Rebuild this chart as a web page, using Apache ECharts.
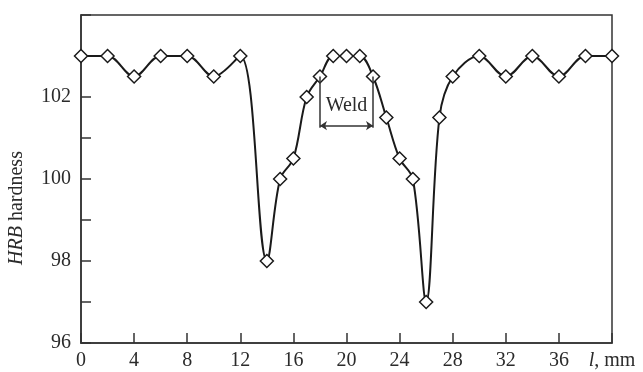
<!DOCTYPE html>
<html>
<head>
<meta charset="utf-8">
<script src="https://cdn.jsdelivr.net/npm/echarts@6/dist/echarts.min.js"></script>
<style>
  html, body { margin: 0; padding: 0; background: #fff; }
  #chart { width: 643px; height: 372px; }
</style>
</head>
<body>
<div id="chart"></div>
<script>
// distance l (mm) and HRB hardness
const posicions = [0, 2, 4, 6, 8, 10, 12, 14, 15, 16, 17, 18, 19, 20, 21, 22, 23, 24, 25, 26, 27, 28, 30, 32, 34, 36, 38, 40];
const duresa = [103, 103, 102.5, 103, 103, 102.5, 103, 98, 100, 100.5, 102, 102.5, 103, 103, 103, 102.5, 101.5, 100.5, 100, 97, 101.5, 102.5, 103, 102.5, 103, 102.5, 103, 103];

// weld zone annotation
const zonaSoldadura = [18, 22];
const alcadaFletxa = 101.3;
const alcadaText = 101.78;
const textSoldadura = 'Weld';

const FONT = '"Liberation Serif", "DejaVu Serif", serif';
const TEXT = '#2b2b2b';
const LINIA = '#333';

const chart = echarts.init(document.getElementById('chart'), undefined, { renderer: 'canvas' });

const punts = posicions.map((x, i) => [x, duresa[i]]);
const iniciZona = punts.find((p) => p[0] === zonaSoldadura[0]);
const fiZona = punts.find((p) => p[0] === zonaSoldadura[1]);

chart.setOption({
  animation: false,
  backgroundColor: '#fff',
  grid: {
    left: 81, right: 31, top: 15, bottom: 29,
    show: true, borderColor: LINIA, borderWidth: 1.5, backgroundColor: 'transparent'
  },
  xAxis: {
    type: 'value',
    min: 0, max: 40, interval: 4,
    axisLine: { lineStyle: { color: LINIA, width: 1.5 } },
    axisTick: { inside: true, length: 10, lineStyle: { color: LINIA, width: 1.5 } },
    splitLine: { show: false },
    axisLabel: {
      margin: 8,
      color: TEXT,
      fontFamily: FONT,
      fontSize: 20,
      formatter: (v) => (v === 40 ? '{i|l}, mm' : String(v)),
      rich: { i: { fontStyle: 'italic', fontFamily: FONT, fontSize: 20, color: TEXT } }
    }
  },
  yAxis: {
    type: 'value',
    min: 96, max: 104, interval: 1,
    axisLine: { show: true, lineStyle: { color: LINIA, width: 1.5 } },
    axisTick: { inside: true, length: 10, lineStyle: { color: LINIA, width: 1.5 } },
    splitLine: { show: false },
    axisLabel: {
      margin: 10,
      color: TEXT,
      fontFamily: FONT,
      fontSize: 20,
      formatter: (v) => (v % 2 === 0 && v < 104 ? String(v) : '')
    }
  },
  graphic: [{
    type: 'text',
    x: 17, y: 208,
    rotation: Math.PI / 2,
    style: {
      text: '{i|HRB} hardness',
      fill: TEXT,
      font: '20px ' + FONT,
      align: 'center',
      verticalAlign: 'middle',
      rich: { i: { fontStyle: 'italic', fontFamily: FONT, fontSize: 20, fill: TEXT } }
    }
  }],
  series: [{
    type: 'line',
    data: punts,
    smooth: 0.35,
    symbol: 'diamond',
    symbolSize: 13,
    lineStyle: { color: '#1a1a1a', width: 2 },
    itemStyle: { color: '#fff', borderColor: '#1a1a1a', borderWidth: 1.5 },
    z: 3,
    markLine: {
      silent: true,
      animation: false,
      symbolSize: 7,
      lineStyle: { color: LINIA, width: 1.5, type: 'solid' },
      label: { show: false },
      data: [
        [{ coord: iniciZona, symbol: 'none' }, { coord: [zonaSoldadura[0], alcadaFletxa - 0.05], symbol: 'none' }],
        [{ coord: fiZona, symbol: 'none' }, { coord: [zonaSoldadura[1], alcadaFletxa - 0.05], symbol: 'none' }],
        [{ coord: [zonaSoldadura[0], alcadaFletxa], symbol: 'arrow' }, { coord: [zonaSoldadura[1], alcadaFletxa], symbol: 'arrow' }]
      ]
    },
    markPoint: {
      silent: true,
      animation: false,
      symbol: 'circle',
      symbolSize: 1,
      itemStyle: { color: 'transparent' },
      label: {
        show: true,
        position: 'inside',
        formatter: textSoldadura,
        color: TEXT,
        fontFamily: FONT,
        fontSize: 20
      },
      data: [{ coord: [(zonaSoldadura[0] + zonaSoldadura[1]) / 2, alcadaText] }]
    }
  }]
});
</script>
</body>
</html>
